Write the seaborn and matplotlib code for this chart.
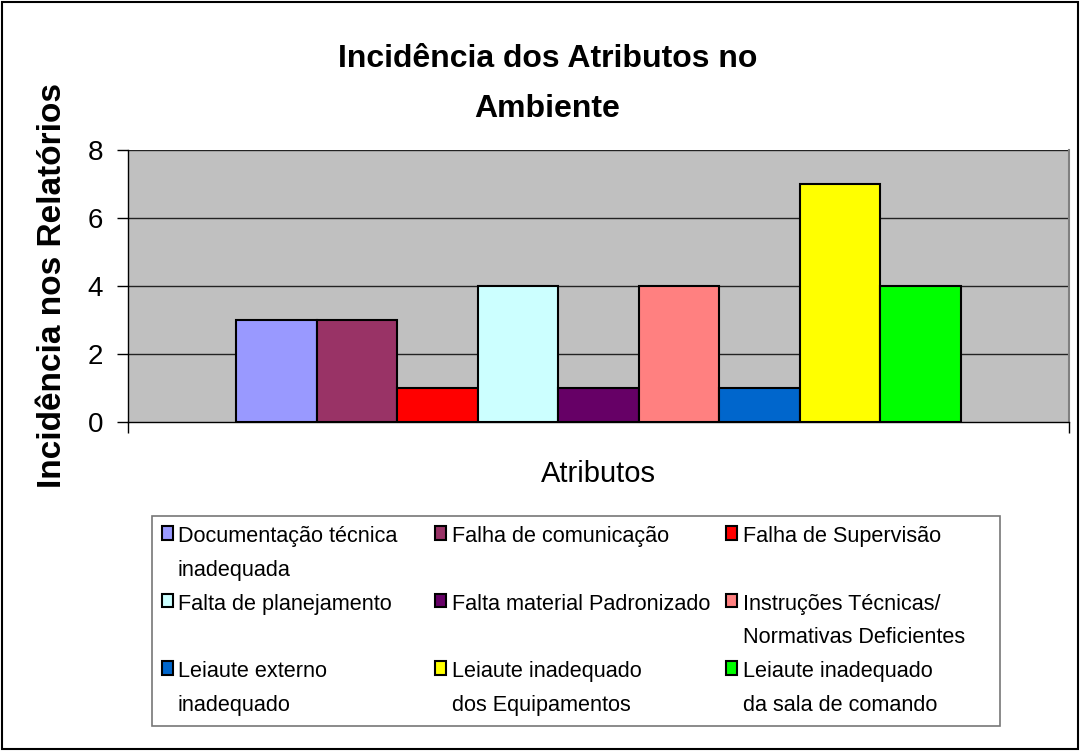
import pandas as pd
import seaborn as sns
import matplotlib.pyplot as plt
from matplotlib.patches import Patch, Rectangle
from matplotlib.offsetbox import DrawingArea

# data
atributos = [
    "Documentação técnica\ninadequada",
    "Falha de comunicação",
    "Falha de Supervisão",
    "Falta de planejamento",
    "Falta material Padronizado",
    "Instruções Técnicas/\nNormativas Deficientes",
    "Leiaute externo\ninadequado",
    "Leiaute inadequado\ndos Equipamentos",
    "Leiaute inadequado\nda sala de comando",
]
incidencia = [3, 3, 1, 4, 1, 4, 1, 7, 4]
cores = ["#9999FF", "#993366", "#FF0000", "#CCFFFF", "#660066",
         "#FF8080", "#0066CC", "#FFFF00", "#00FF00"]
yticks = [0, 2, 4, 6, 8]

df = pd.DataFrame({"grupo": ["Ambiente"] * len(atributos),
                   "atributo": atributos,
                   "valor": incidencia})

sns.set_style("white", rc={"text.color": "black", "axes.labelcolor": "black",
                           "xtick.color": "black", "ytick.color": "black"})
plt.rcParams["font.family"] = ["Liberation Sans", "DejaVu Sans"]

fig = plt.figure(figsize=(10.8, 7.51), dpi=100)
ax = fig.add_axes([0.1185, 0.4381, 0.8713, 0.3622])

sns.barplot(data=df, x="grupo", y="valor", hue="atributo",
            hue_order=atributos, palette=cores, width=0.77, gap=0,
            edgecolor="black", linewidth=1.5, saturation=1,
            legend=False, ax=ax, zorder=3)

ax.set_facecolor("#C0C0C0")
ax.set_ylim(0, 8)
ax.set_xlim(-0.5, 0.5)
ax.set_yticks(yticks)
ax.set_yticklabels([str(t) for t in yticks], fontsize=20)
ax.set_xticks([-0.5, 0.5])
ax.set_xticklabels(["", ""])
ax.tick_params(axis="both", direction="out", length=8, width=1, color="black",
               left=True, bottom=True, pad=10)
for y in yticks[1:]:
    ax.axhline(y, color="#222222", lw=1, zorder=1)
ax.spines["top"].set_visible(False)
ax.spines["right"].set_color("#808080")
ax.spines["right"].set_linewidth(1.5)
for s in ["left", "bottom"]:
    ax.spines[s].set_color("black")
    ax.spines[s].set_linewidth(1)

ax.set_xlabel("Atributos", fontsize=21)
ax.xaxis.set_label_coords(0.5, -0.14)
ax.set_ylabel("Incidência nos Relatórios", fontsize=24, fontweight="bold")
ax.yaxis.set_label_coords(-0.064, 0.5)
fig.text(0.507, 0.888, "Incidência dos Atributos no\nAmbiente", ha="center", va="center",
         fontsize=23, fontweight="bold", linespacing=1.85)

# legend filled row by row like the original (matplotlib fills by column)
ordem = [0, 3, 6, 1, 4, 7, 2, 5, 8]
handles = [Patch(facecolor=cores[i], edgecolor="black", linewidth=1.5) for i in ordem]
labels = [atributos[i] if "\n" in atributos[i] else atributos[i] + "\n " for i in ordem]
leg = fig.legend(handles, labels, ncol=3, loc="upper left",
                 bbox_to_anchor=(0.1407, 0.3129), borderaxespad=0, frameon=True,
                 fancybox=False, edgecolor="#555555", fontsize=15.6,
                 handlelength=0.5, handleheight=0.6, handletextpad=0.25,
                 columnspacing=0.75, labelspacing=0.6, borderpad=0.45)
leg.get_frame().set_linewidth(1.2)
for t in leg.get_texts():
    t.set_linespacing(1.8)
# put the colour box next to the first line of each label
cols = leg._legend_handle_box.get_children()
for col in cols:
    for item in col.get_children():
        item.align = "top"
# wider first column and a bit of room on the right, as in the original
cols.insert(1, DrawingArea(4, 1))
cols.append(DrawingArea(7, 1))

fig.add_artist(Rectangle((0.002, 0.003), 0.996, 0.994, transform=fig.transFigure,
                         fill=False, edgecolor="black", linewidth=1.5))

fig.savefig("out.png", dpi=100)
